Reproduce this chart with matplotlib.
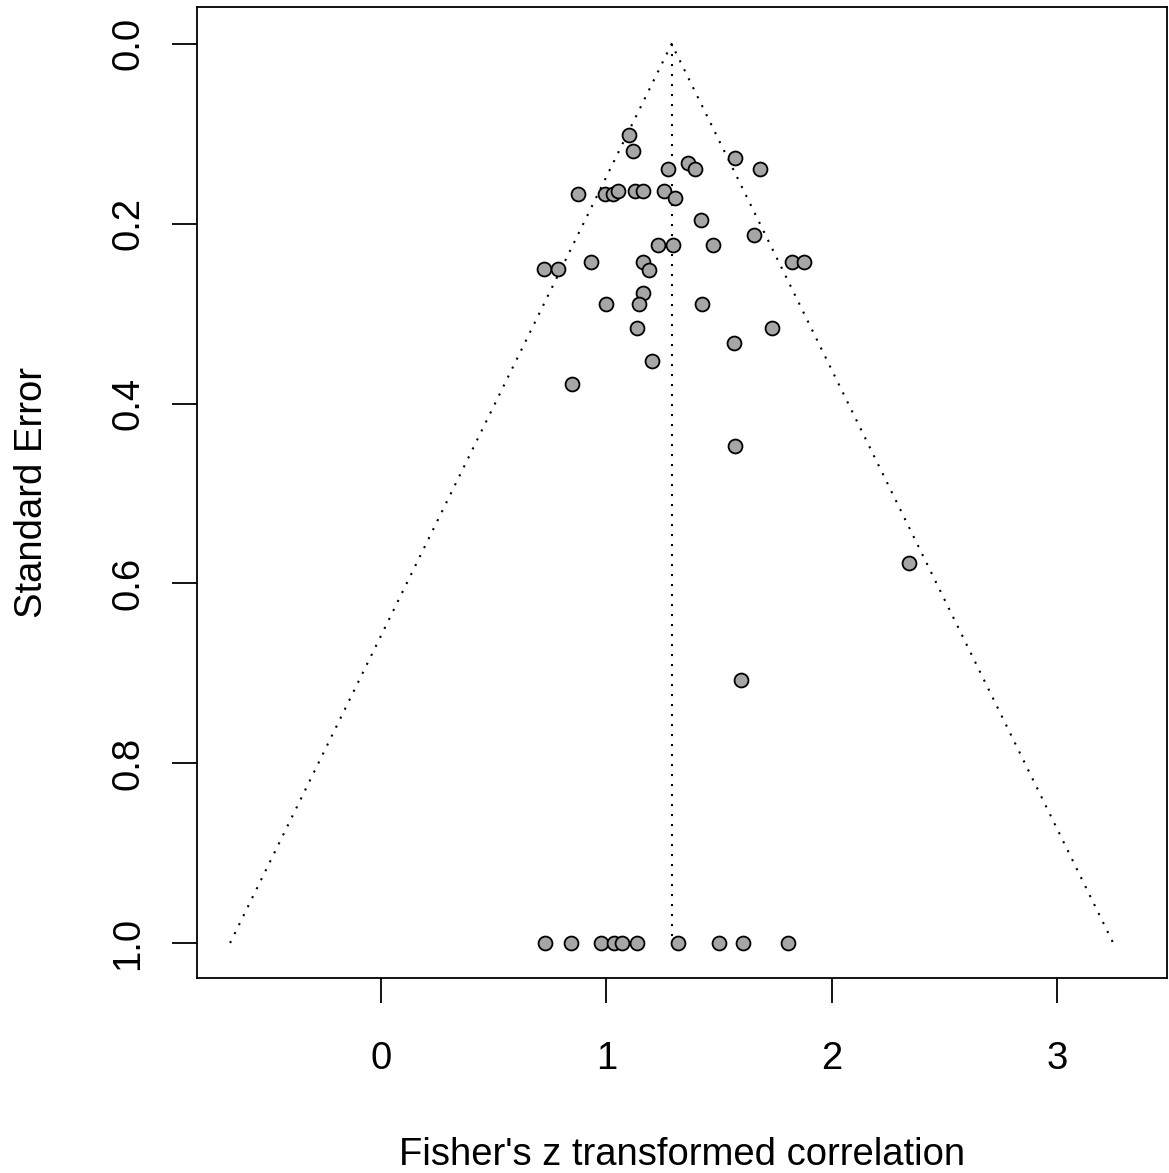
import numpy as np
import matplotlib.pyplot as plt

plt.rcParams['font.family'] = ['Liberation Sans', 'DejaVu Sans']

# effect sizes (Fisher's z) and standard errors
z = [1.102, 1.120, 1.275, 1.361, 1.394, 1.571, 1.682,
     0.876, 0.994, 1.028, 1.053, 1.127, 1.161, 1.258, 1.305,
     1.420, 1.231, 1.298, 1.472, 1.656,
     0.932, 1.161, 1.191, 0.725, 0.784, 1.826, 1.877,
     1.161, 1.147, 0.999, 1.423, 1.135, 1.734, 1.568, 1.201, 0.846,
     1.571, 2.343, 1.598,
     0.728, 0.842, 0.976, 1.036, 1.068, 1.135, 1.317, 1.502, 1.605, 1.805]
se = [0.101, 0.119, 0.139, 0.132, 0.139, 0.127, 0.139,
      0.167, 0.167, 0.167, 0.164, 0.164, 0.164, 0.164, 0.171,
      0.196, 0.224, 0.224, 0.224, 0.213,
      0.243, 0.243, 0.251, 0.250, 0.250, 0.243, 0.243,
      0.277, 0.289, 0.289, 0.289, 0.316, 0.316, 0.333, 0.353, 0.378,
      0.447, 0.577, 0.708,
      1.0, 1.0, 1.0, 1.0, 1.0, 1.0, 1.0, 1.0, 1.0, 1.0]
z_hat = 1.29
se_max = 1.0

fig = plt.figure(figsize=(11.69, 11.73), dpi=100)
ax = fig.add_axes([0.1685, 0.1662, 0.8298, 0.8278])

dots = (0, (1, 3.8))
ax.plot([z_hat, z_hat], [0, se_max], color='black', lw=1.5, linestyle=dots)
ax.plot([z_hat - 1.96 * se_max, z_hat, z_hat + 1.96 * se_max], [se_max, 0, se_max],
        color='black', lw=1.5, linestyle=dots)

ax.scatter(z, se, s=100, facecolor='#a6a6a6', edgecolor='black', linewidths=1.3, zorder=3)

ax.set_xlim(-0.817, 3.489)
ax.set_ylim(1.039, -0.041)
ax.set_xticks([0, 1, 2, 3])
ax.set_yticks([0.0, 0.2, 0.4, 0.6, 0.8, 1.0])
ax.set_yticklabels(['0.0', '0.2', '0.4', '0.6', '0.8', '1.0'], rotation=90, va='center')

ax.tick_params(axis='both', length=18, width=1.3, labelsize=27.5)
ax.tick_params(axis='x', pad=27)
ax.tick_params(axis='y', pad=18.7)
for s in ax.spines.values():
    s.set_linewidth(1.3)

ax.set_xlabel("Fisher's z transformed correlation", fontsize=27.5)
ax.set_ylabel('Standard Error', fontsize=27.5)
ax.xaxis.set_label_coords(0.5, -0.1637)
ax.yaxis.set_label_coords(-0.1515, 0.5)

fig.savefig('out.png', dpi=100)
